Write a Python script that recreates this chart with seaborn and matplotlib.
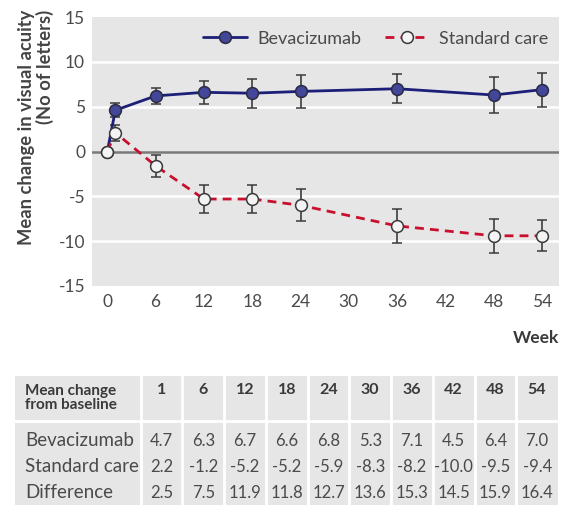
import numpy as np
import pandas as pd
import matplotlib
matplotlib.use("Agg")
import matplotlib.pyplot as plt
import seaborn as sns

# ---- chart data ----
weeks = [0, 1, 6, 12, 18, 24, 36, 48, 54]
bev_mean = [0.0, 4.6, 6.2, 6.6, 6.5, 6.7, 7.0, 6.3, 6.9]
bev_err = [0.0, 0.8, 0.9, 1.25, 1.6, 1.8, 1.6, 2.0, 1.9]
std_mean = [0.0, 2.1, -1.6, -5.3, -5.3, -6.0, -8.3, -9.4, -9.4]
std_err = [0.0, 0.9, 1.25, 1.55, 1.55, 1.8, 1.9, 1.9, 1.75]
series_names = ["Bevacizumab", "Standard care"]
x_ticks = [0, 6, 12, 18, 24, 30, 36, 42, 48, 54]
y_ticks = [-15, -10, -5, 0, 5, 10, 15]

# ---- table data ----
table_weeks = ["1", "6", "12", "18", "24", "30", "36", "42", "48", "54"]
table_rows = ["Bevacizumab", "Standard care", "Difference"]
table_bev = ["4.7", "6.3", "6.7", "6.6", "6.8", "5.3", "7.1", "4.5", "6.4", "7.0"]
table_std = ["2.2", "-1.2", "-5.2", "-5.2", "-5.9", "-8.3", "-8.2", "-10.0", "-9.5", "-9.4"]
table_diff = ["2.5", "7.5", "11.9", "11.8", "12.7", "13.6", "15.3", "14.5", "15.9", "16.4"]

sns.set_theme(style="white")
plt.rcParams['font.family'] = ['Lato', 'DejaVu Sans']

W, H = 575, 505
fig = plt.figure(figsize=(W / 100, H / 100), dpi=100)
ax = fig.add_axes([92 / W, 1 - 286 / H, (559 - 92) / W, (286 - 17) / H])
ax.set_facecolor("#e6e6e6")
for s in ax.spines.values():
    s.set_visible(False)

df = pd.DataFrame({
    "week": weeks + weeks,
    "value": bev_mean + std_mean,
    "err": bev_err + std_err,
    "group": [series_names[0]] * len(weeks) + [series_names[1]] * len(weeks),
})

# grid lines
for yv in [-10, -5, 5, 10]:
    ax.axhline(yv, color="white", lw=1.8, zorder=0.5)
ax.axhline(0, color="#7a7a7a", lw=1.8, zorder=0.6)

navy = "#1c1f78"
red = "#c8102e"

# error bars
for name in series_names:
    d = df[df.group == name]
    ax.errorbar(d.week[1:], d.value[1:], yerr=d.err[1:], fmt="none",
                ecolor="#4a4a4a", elinewidth=1.3, capsize=3.5, capthick=1.3, zorder=2)

sns.lineplot(data=df, x="week", y="value", hue="group", style="group",
             palette={series_names[0]: navy, series_names[1]: red},
             dashes={series_names[0]: "", series_names[1]: (3.2, 2.2)},
             markers={series_names[0]: "o", series_names[1]: "o"},
             markersize=8.5, linewidth=2, ax=ax, zorder=3, legend=True)

for ln in ax.get_lines():
    if matplotlib.colors.to_hex(ln.get_color()) == navy:
        ln.set_markerfacecolor("#43479a")
        ln.set_markeredgecolor("#2a2a40")
    else:
        ln.set_markerfacecolor("#f4f4f4")
        ln.set_markeredgecolor("#3a3a3a")
    ln.set_markeredgewidth(1.1)

ax.set_xlim(-1.9, 56.1)
ax.set_ylim(-15, 15)
ax.set_xticks(x_ticks)
ax.set_yticks(y_ticks)
ax.set_xticklabels([str(v) for v in x_ticks])
ax.set_yticklabels([str(v) for v in y_ticks])
ax.tick_params(axis="x", direction="in", color="white", length=5, width=1.5,
               labelsize=12.5, labelcolor="#4a4a4a", pad=6)
ax.tick_params(axis="y", length=0, labelsize=12.5, labelcolor="#4a4a4a", pad=5)
ax.set_xlabel("")
ax.set_ylabel("")
fig.text(36 / W, 1 - 10 / H, "Mean change in visual acuity\n(No of letters)",
         rotation=90, ha="center", va="top", multialignment="right",
         fontsize=13.2, fontweight="bold", color="#444444", linespacing=1.0)

leg = ax.legend(loc="upper right", ncol=2, frameon=False, fontsize=13,
                handlelength=2.4, columnspacing=1.3, handletextpad=0.6,
                bbox_to_anchor=(1.012, 1.01), labelcolor="#4a4a4a")
for h in leg.legend_handles:
    h.set_markeredgewidth(1.1)

fig.text(559 / W, 1 - 338 / H, "Week", ha="right", va="center", fontsize=12.5,
         fontweight="bold", color="#3a3a3a")

# ---- table ----
tx = fig.add_axes([0, 0, 1, 1])
tx.set_xlim(0, W)
tx.set_ylim(H, 0)
tx.axis("off")
left, right, top, bottom = 15, 558, 376, 505
tx.add_patch(plt.Rectangle((left, top), right - left, bottom - top,
                           facecolor="#e6e6e6", edgecolor="none", zorder=0))
col0 = 140.7
colw = (right - col0) / len(table_weeks)
for i in range(len(table_weeks)):
    xs = col0 + i * colw
    tx.plot([xs, xs], [top, bottom], color="white", lw=2, zorder=1)
tx.plot([left, right], [421, 421], color="white", lw=2, zorder=1)

tc = "#4a4a4a"
tx.text(25, 398, "Mean change\nfrom baseline", fontsize=11, fontweight="bold",
        color="#3a3a3a", ha="left", va="center", linespacing=0.95)
for i, w in enumerate(table_weeks):
    tx.text(col0 + (i + 0.5) * colw, 390.5, w, fontsize=11.5, fontweight="bold",
            color="#3a3a3a", ha="center", va="center")
row_y = [441, 467, 493]
for ry, name, vals in zip(row_y, table_rows, [table_bev, table_std, table_diff]):
    tx.text(25, ry, name, fontsize=13.5, color=tc, ha="left", va="center")
    for i, v in enumerate(vals):
        tx.text(col0 + (i + 0.5) * colw, ry, v, fontsize=12, color=tc,
                ha="center", va="center")

fig.savefig("out.png", dpi=100)
